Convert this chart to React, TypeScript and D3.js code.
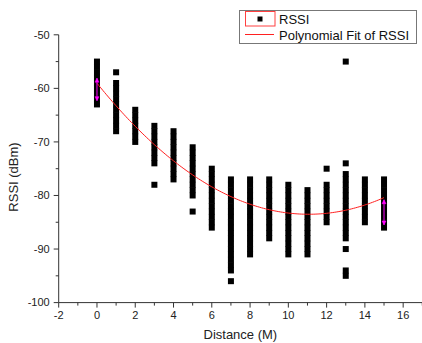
import React from "react";
import * as d3 from "d3";

const distances = [0, 1, 2, 3, 4, 5, 6, 7, 8, 9, 10, 11, 12, 13, 14, 15];
const rssi0 = [-55, -56, -57, -58, -59, -60, -61, -62, -63];
const rssi1 = [-57, -59, -60, -61, -62, -63, -64, -65, -66, -67, -68];
const rssi2 = [-64, -65, -66, -67, -68, -69, -70];
const rssi3 = [-67, -68, -69, -70, -71, -72, -73, -74, -78];
const rssi4 = [-68, -69, -70, -71, -72, -73, -74, -75, -76, -77];
const rssi5 = [-71, -72, -73, -74, -75, -76, -77, -78, -79, -80, -83];
const rssi6 = [-75, -76, -77, -78, -79, -80, -81, -82, -83, -84, -85, -86];
const rssi7 = [-77, -78, -79, -80, -81, -82, -83, -84, -85, -86, -87, -88, -89, -90, -91, -92, -93, -94, -96];
const rssi8 = [-77, -78, -79, -80, -81, -82, -83, -84, -85, -86, -87, -88, -89, -90, -91];
const rssi9 = [-77, -78, -79, -80, -81, -82, -83, -84, -85, -86, -87, -88];
const rssi10 = [-78, -79, -80, -81, -82, -83, -84, -85, -86, -87, -88, -89, -90, -91];
const rssi11 = [-79, -80, -81, -82, -83, -84, -85, -86, -87, -88, -89, -90, -91];
const rssi12 = [-75, -78, -79, -80, -81, -82, -83, -84, -85];
const rssi13 = [-55, -74, -76, -77, -78, -79, -80, -81, -82, -83, -84, -85, -86, -87, -88, -90, -94, -95];
const rssi14 = [-77, -78, -79, -80, -81, -82, -83, -84, -85];
const rssi15 = [-77, -78, -79, -80, -81, -82, -83, -84, -85, -86];
const rssiByDistance = [rssi0, rssi1, rssi2, rssi3, rssi4, rssi5, rssi6, rssi7, rssi8, rssi9, rssi10, rssi11, rssi12, rssi13, rssi14, rssi15];

// Polynomial fit coefficients: y = c0 + c1*x + c2*x^2
const fitCoefs = [-59.04, -4.424, 0.2];
const fitRange = [0, 15];

// Error bars (mean, sd) shown at ends
const errX = [0, 15];
const errMean = [-60.2, -83.15];
const errSd = [2.1, 2.35];

const xTicks = [-2, 0, 2, 4, 6, 8, 10, 12, 14, 16];
const xMinor = [-1, 1, 3, 5, 7, 9, 11, 13, 15, 17];
const yTicks = [-50, -60, -70, -80, -90, -100];
const yMinor = [-55, -65, -75, -85, -95];

const W = 422, H = 343;
const FONT = "'Liberation Sans', Arial, sans-serif";

export default function App() {
  const x = d3.scaleLinear().domain([-2, 17]).range([58.7, 422.3]);
  const y = d3.scaleLinear().domain([-100, -50]).range([302.6, 34.8]);
  const axisColor = "#333";

  const pts: { d: number; v: number }[] = [];
  distances.forEach((d, i) => rssiByDistance[i].forEach((v) => pts.push({ d, v })));

  const fitX = d3.range(fitRange[0], fitRange[1] + 0.001, 0.1);
  const line = d3
    .line<number>()
    .x((d) => x(d))
    .y((d) => y(fitCoefs[0] + fitCoefs[1] * d + fitCoefs[2] * d * d));

  const sq = 6;

  return (
    <svg width={W} height={H} style={{ position: "absolute", left: 0, top: 0, background: "#fff" }} fontFamily={FONT}>
      {/* points */}
      {pts.map((p, i) => (
        <rect key={i} x={x(p.d) - sq / 2} y={y(p.v) - sq / 2} width={sq} height={sq} fill="#000" />
      ))}
      {/* fit line */}
      <path d={line(fitX) || ""} fill="none" stroke="#ff2020" strokeWidth={1} />
      {/* error bars */}
      {errX.map((ex, i) => {
        const cx = x(ex);
        const top = y(errMean[i] + errSd[i]);
        const bot = y(errMean[i] - errSd[i]);
        return (
          <g key={i} stroke="#ff00ff" fill="#ff00ff">
            <line x1={cx} x2={cx} y1={top} y2={bot} strokeWidth={1} />
            <path d={`M${cx},${top} L${cx - 2},${top + 4} L${cx + 2},${top + 4} Z`} strokeWidth={0.5} />
            <path d={`M${cx},${bot} L${cx - 2},${bot - 4} L${cx + 2},${bot - 4} Z`} strokeWidth={0.5} />
          </g>
        );
      })}
      {/* y axis */}
      <line x1={x(-2)} x2={x(-2)} y1={y(-50)} y2={y(-100)} stroke={axisColor} strokeWidth={1} />
      {yTicks.map((t) => (
        <g key={t}>
          <line x1={x(-2) - 5} x2={x(-2)} y1={y(t)} y2={y(t)} stroke={axisColor} />
          <text x={x(-2) - 9} y={y(t)} dy="0.35em" textAnchor="end" fontSize={11} fill="#222">
            {t}
          </text>
        </g>
      ))}
      {yMinor.map((t) => (
        <line key={t} x1={x(-2) - 3} x2={x(-2)} y1={y(t)} y2={y(t)} stroke={axisColor} />
      ))}
      {/* x axis */}
      <line x1={x(-2)} x2={W} y1={y(-100)} y2={y(-100)} stroke={axisColor} strokeWidth={1} />
      {xTicks.map((t) => (
        <g key={t}>
          <line x1={x(t)} x2={x(t)} y1={y(-100)} y2={y(-100) + 5} stroke={axisColor} />
          <text x={x(t)} y={y(-100) + 16} textAnchor="middle" fontSize={11} fill="#222">
            {t}
          </text>
        </g>
      ))}
      {xMinor.map((t) => (
        <line key={t} x1={x(t)} x2={x(t)} y1={y(-100)} y2={y(-100) + 3} stroke={axisColor} />
      ))}
      {/* axis titles */}
      <text x={(x(-2) + W) / 2 + 0} y={339} textAnchor="middle" fontSize={13} fill="#222">
        Distance (M)
      </text>
      <text transform={`translate(18,${177}) rotate(-90)`} textAnchor="middle" fontSize={13} fill="#222">
        RSSI (dBm)
      </text>
      {/* legend */}
      <rect x={239.5} y={10.5} width={177} height={33} fill="#fff" stroke="#777" strokeWidth={1} />
      <rect x={245.5} y={11.5} width={29.5} height={14.5} fill="none" stroke="#ff4040" strokeWidth={1} />
      <rect x={257.5} y={16.5} width={5} height={5} fill="#000" />
      <text x={279} y={23.5} fontSize={13} fill="#111">RSSI</text>
      <line x1={245} x2={274} y1={34.5} y2={34.5} stroke="#ff2020" strokeWidth={1} />
      <text x={279} y={39.5} fontSize={13} fill="#111">Polynomial Fit of RSSI</text>
    </svg>
  );
}
